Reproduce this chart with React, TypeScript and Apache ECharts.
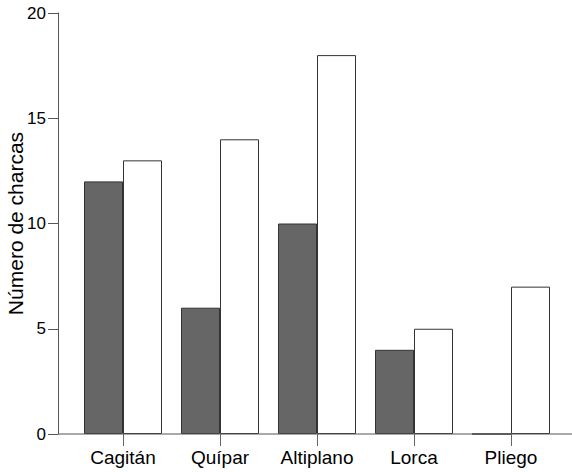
import React, { useEffect, useRef } from "react";
import * as echarts from "echarts";

const categories = ["Cagitán", "Quípar", "Altiplano", "Lorca", "Pliego"];
const seriesDark = [12, 6, 10, 4, 0];
const seriesWhite = [13, 14, 18, 5, 7];
const yTicks = { min: 0, max: 20, interval: 5 };

export default function App() {
  const ref = useRef<HTMLDivElement>(null);
  useEffect(() => {
    if (!ref.current) return;
    const chart = echarts.init(ref.current, undefined, { renderer: "svg" });
    const font = "'Liberation Sans', Arial, sans-serif";
    chart.setOption({
      animation: false,
      grid: { left: 74.5, right: 12.5, top: 13, bottom: 38, containLabel: false, outerBoundsMode: "none" },
      xAxis: {
        type: "category",
        data: categories,
        axisLine: { show: false },
        axisTick: { show: true, alignWithLabel: true, length: 12, lineStyle: { color: "#666" } },
        axisLabel: { color: "#000", fontSize: 19, fontFamily: font, margin: 14 },
      },
      yAxis: {
        type: "value",
        min: yTicks.min,
        max: yTicks.max,
        interval: yTicks.interval,
        offset: 16.5,
        name: "Número de charcas",
        nameLocation: "middle",
        nameGap: 32,
        nameMoveOverlap: false,
        nameTextStyle: { color: "#000", fontSize: 21, fontFamily: font },
        splitLine: { show: false },
        axisLine: { show: true, lineStyle: { color: "#555", width: 1 } },
        axisTick: { show: true, length: 10, lineStyle: { color: "#555" } },
        axisLabel: { color: "#000", fontSize: 17, fontFamily: font, margin: 12 },
      },
      graphic: [
        {
          type: "line",
          shape: { x1: 58, y1: 434, x2: 572, y2: 434 },
          style: { stroke: "#555", lineWidth: 1 },
          z: 100,
        },
      ],
      series: [
        {
          type: "bar",
          data: seriesDark,
          barWidth: 39,
          barGap: "0%",
          itemStyle: { color: "#666666", borderColor: "#333", borderWidth: 1 },
        },
        {
          type: "bar",
          data: seriesWhite,
          barWidth: 39,
          barGap: "0%",
          itemStyle: { color: "#ffffff", borderColor: "#333", borderWidth: 1 },
        },
      ],
    });
    return () => chart.dispose();
  }, []);
  return <div ref={ref} style={{ width: 572, height: 472, position: "absolute", left: 0, top: 0 }} />;
}
